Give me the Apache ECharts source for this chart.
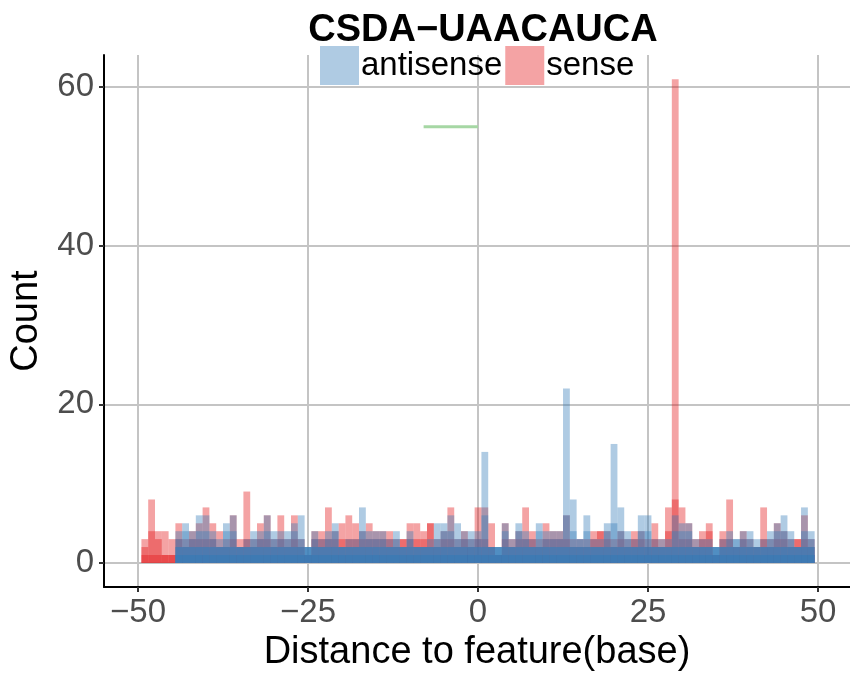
<!DOCTYPE html>
<html>
<head>
<meta charset="utf-8">
<script src="https://cdn.jsdelivr.net/npm/echarts@6/dist/echarts.min.js"></script>
<style>html,body{margin:0;padding:0;background:#fff}#c{width:850px;height:677px}</style>
</head>
<body>
<div id="c"></div>
<script>
// bin centres (distance to feature, base)
const bins = [-49,-48,-47,-46,-45,-44,-43,-42,-41,-40,-39,-38,-37,-36,-35,-34,-33,-32,-31,-30,
-29,-28,-27,-26,-25,-24,-23,-22,-21,-20,-19,-18,-17,-16,-15,-14,-13,-12,-11,-10,
-9,-8,-7,-6,-5,-4,-3,-2,-1,0,1,2,3,4,5,6,7,8,9,10,11,12,13,14,15,16,17,18,19,20,
21,22,23,24,25,26,27,28,29,30,31,32,33,34,35,36,37,38,39,40,41,42,43,44,45,46,47,48,49];

// sense layers (overlaid, semi-transparent)
const senseOuter = [3,8,4,4,3,5,3,4,5,7, 5,4,3,6,3,9,3,5,6,3, 6,3,6,3,1,4,4,7,4,5, 6,5,4,5,4,4,4,3,3,5, 5,4,5,3,4,7,3,4,3,7,
 7,5,1,5,3,4,7,4,3,5, 4,4,6,3,3,3,4,4,4,3, 4,3,4,4,3,5,3,7,61,7, 5,3,4,5,1,4,8,2,4,3, 2,7,3,5,4,3,3,6,3];
const senseMid = [2,4,3,1,1,3,2,3,3,3, 3,2,2,3,2,3,2,3,3,2, 3,2,3,2,1,3,3,3,3,3, 3,3,3,3,3,3,3,2,3,3, 3,3,5,2,3,3,2,3,2,3,
 3,2,1,3,2,3,3,3,2,3, 3,3,3,2,2,2,3,4,3,2, 3,2,3,3,2,3,2,4,8,3, 3,2,3,4,1,3,3,2,3,2, 2,3,2,3,3,2,3,3,2];
const senseBase = [1,1,1,1,1,1,1,1,1,1, 1,1,1,1,1,1,1,1,1,1, 1,1,1,1,1,1,1,1,1,1, 1,1,1,1,1,1,1,1,1,1, 1,1,1,1,1,1,1,1,1,1,
 1,1,1,1,1,1,1,1,1,1, 1,1,1,1,1,1,1,1,1,1, 1,1,1,1,1,1,1,1,1,1, 1,1,1,1,1,1,1,1,1,1, 1,1,1,1,1,1,1,1,1];

// antisense layers
const antiOuter = [0,0,0,0,0,4,5,4,6,6, 4,3,5,6,2,3,4,4,6,4, 4,4,5,6,2,4,3,4,5,2, 3,3,7,4,4,4,3,4,2,4, 2,2,3,5,5,6,5,4,4,4,
 14,2,2,5,3,5,4,3,5,4, 4,4,22,8,3,6,3,3,5,15, 7,4,3,6,6,3,3,3,6,5, 5,3,3,3,2,3,4,3,4,4, 3,3,4,5,6,4,2,7,4];
const antiMid = [0,0,0,0,0,3,4,3,4,4, 3,2,4,4,2,2,3,3,4,3, 3,3,4,3,2,3,2,3,4,2, 2,2,4,3,3,3,2,3,2,3, 2,2,2,3,4,4,3,3,3,3,
 6,2,2,4,2,4,3,2,4,3, 3,3,6,4,3,4,2,2,4,5, 4,3,2,4,4,2,2,2,4,4, 4,2,2,2,2,2,3,3,3,3, 2,2,3,4,4,3,2,4,3];
const antiLow = [0,0,0,0,0,2,2,2,2,2, 2,2,2,2,2,2,2,2,2,2, 2,2,2,2,2,2,2,2,2,2, 2,2,2,2,2,2,2,2,2,2, 2,2,2,2,2,2,2,2,2,2,
 2,2,2,2,2,2,2,2,2,2, 2,2,2,2,2,2,2,2,2,2, 2,2,2,2,2,2,2,2,2,2, 2,2,2,2,2,2,2,2,2,2, 2,2,2,2,2,2,2,2,2];
const antiBase = [0,0,0,0,0,1,1,1,1,1, 1,1,1,1,1,1,1,1,1,1, 1,1,1,1,1,1,1,1,1,1, 1,1,1,1,1,1,1,1,1,1, 1,1,1,1,1,1,1,1,1,1,
 1,1,1,1,1,1,1,1,1,1, 1,1,1,1,1,1,1,1,1,1, 1,1,1,1,1,1,1,1,1,1, 1,1,1,1,1,1,1,1,1,1, 1,1,1,1,1,1,1,1,1];

// green segment
const segX = [-8, 0];
const segY = [55, 55];

const xTicks = [-50, -25, 0, 25, 50];
const yTicks = [0, 20, 40, 60];

const RED = '#e41a1c', BLUE = '#377eb8';
function layer(name, vals, color) {
  const d = [];
  bins.forEach((b, i) => { if (vals[i] > 0) d.push([b, vals[i]]); });
  return { type: 'bar', name: name, data: d, barWidth: 6.8, barGap: '-100%',
    itemStyle: { color: color, opacity: 0.4 }, silent: true, animation: false };
}
const fmt = v => (v < 0 ? '\u2212' + (-v) : String(v));

const chart = echarts.init(document.getElementById('c'), null, { renderer: 'canvas' });
chart.setOption({
  animation: false,
  backgroundColor: '#ffffff',
  textStyle: { fontFamily: 'Liberation Sans, Arial, sans-serif' },
  title: { text: 'CSDA\u2212UAACAUCA', left: 478, top: 7, textAlign: 'center',
    textStyle: { fontSize: 38, fontWeight: 'bold', color: '#000', fontFamily: 'Liberation Sans, Arial, sans-serif' } },
  legend: { left: 320, top: 46, padding: 0, itemWidth: 39, itemHeight: 39, itemGap: 3,
    icon: 'rect', selectedMode: false,
    textStyle: { fontSize: 33, color: '#000', padding: [0, 0, 0, -3] },
    data: [ { name: 'antisense', itemStyle: { color: '#afcbe3', opacity: 1 } },
            { name: 'sense', itemStyle: { color: '#f4a3a4', opacity: 1 } } ] },
  grid: { left: 104, right: 0, top: 55, bottom: 87, containLabel: false },
  xAxis: { type: 'value', min: -55, max: 54.7,
    name: 'Distance to feature(base)', nameLocation: 'middle', nameGap: 45,
    nameTextStyle: { fontSize: 38, color: '#000' },
    axisLine: { show: true, onZero: false, lineStyle: { color: '#000', width: 2 } },
    axisTick: { show: true, length: 5, lineStyle: { color: '#333', width: 2 }, customValues: xTicks },
    axisLabel: { fontSize: 33, color: '#4d4d4d', margin: 9, customValues: xTicks, formatter: fmt },
    splitLine: { show: true, lineStyle: { color: '#c4c4c4', width: 2 } } },
  yAxis: { type: 'value', min: -3.05, max: 64.05,
    name: 'Count', nameLocation: 'middle', nameGap: 58,
    nameTextStyle: { fontSize: 38, color: '#000' },
    axisLine: { show: true, onZero: false, lineStyle: { color: '#000', width: 2 } },
    axisTick: { show: true, length: 5, lineStyle: { color: '#333', width: 2 }, customValues: yTicks },
    axisLabel: { fontSize: 33, color: '#4d4d4d', margin: 10, customValues: yTicks, formatter: fmt },
    splitLine: { show: true, lineStyle: { color: '#c4c4c4', width: 2 } } },
  series: [
    layer('sense', senseOuter, RED),
    layer('sense', senseMid, RED),
    layer('sense', senseBase, RED),
    layer('antisense', antiOuter, BLUE),
    layer('antisense', antiMid, BLUE),
    layer('antisense', antiLow, BLUE),
    layer('antisense', antiLow, BLUE),
    layer('antisense', antiBase, BLUE),
    layer('antisense', antiBase, BLUE),
    { type: 'line', name: 'segment', data: segX.map((x, i) => [x, segY[i]]), symbol: 'none',
      lineStyle: { color: '#a6d7a4', width: 3 }, silent: true, animation: false }
  ]
});
</script>
</body>
</html>
